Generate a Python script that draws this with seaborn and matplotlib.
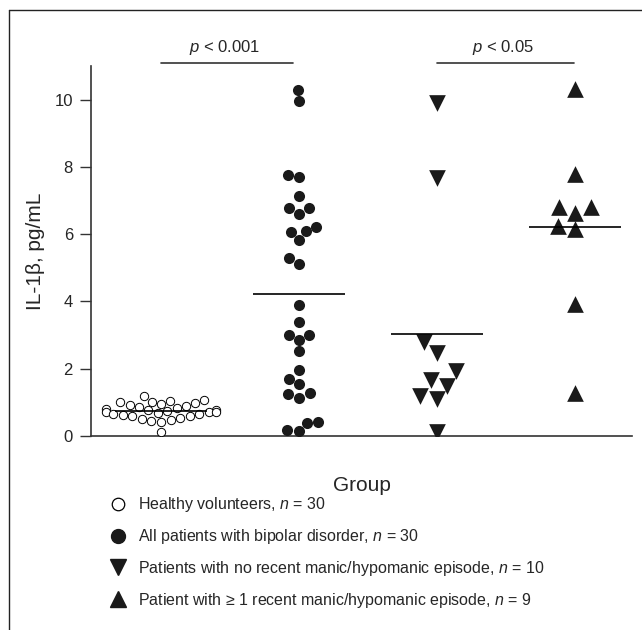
import numpy as np
import pandas as pd
import seaborn as sns
import matplotlib.pyplot as plt
from matplotlib.lines import Line2D

# valores (IL-1beta, pg/mL)
groups = ['Healthy', 'Bipolar', 'NoRecent', 'Recent']
healthy = [1.19, 1.08, 1.05, 1.02, 1.00, 0.98, 0.95, 0.92, 0.88, 0.85,
           0.82, 0.80, 0.78, 0.76, 0.74, 0.72, 0.70, 0.70, 0.68, 0.66,
           0.64, 0.62, 0.60, 0.58, 0.55, 0.52, 0.48, 0.45, 0.42, 0.12]
bipolar = [10.28, 9.95, 7.76, 7.69, 7.14, 6.79, 6.77, 6.60, 6.22, 6.09,
           6.07, 5.82, 5.29, 5.12, 3.90, 3.38, 3.01, 3.01, 2.86, 2.52,
           1.96, 1.69, 1.54, 1.27, 1.26, 1.14, 0.42, 0.40, 0.18, 0.15]
no_recent = [9.90, 7.66, 2.79, 2.47, 1.92, 1.66, 1.49, 1.19, 1.09, 0.13]
recent = [10.33, 7.79, 6.81, 6.81, 6.64, 6.25, 6.14, 3.93, 1.29]

legend_labels = ['Healthy volunteers, $n$ = 30',
                 'All patients with bipolar disorder, $n$ = 30',
                 'Patients with no recent manic/hypomanic episode, $n$ = 10',
                 'Patient with \u2265 1 recent manic/hypomanic episode, $n$ = 9']
pvals = ['$p$ < 0.001', '$p$ < 0.05']
yticks = [0, 2, 4, 6, 8, 10]

sns.set_style('white')
plt.rcParams['font.family'] = ['Liberation Sans', 'DejaVu Sans']
plt.rcParams['mathtext.fontset'] = 'custom'
plt.rcParams['mathtext.rm'] = 'Liberation Sans'
plt.rcParams['mathtext.it'] = 'Liberation Sans:italic'

all_vals = [healthy, bipolar, no_recent, recent]
df = pd.DataFrame({
    'group': np.repeat(groups, [len(v) for v in all_vals]),
    'il1b': np.concatenate(all_vals),
})

fig = plt.figure(figsize=(6.42, 6.30), dpi=100)
ax = fig.add_axes([91/642, 1 - 436/630, (632 - 91)/642, (436 - 66)/630])

ink = '#1a1a1a'
styles = {
    'Healthy': dict(marker='o', size=6, color='white', edgecolor='black', linewidth=0.7),
    'Bipolar': dict(marker='o', size=8, color=ink, linewidth=0),
    'NoRecent': dict(marker='v', size=12, color=ink, linewidth=0),
    'Recent': dict(marker='^', size=12, color=ink, linewidth=0),
}
for g in groups:
    sns.swarmplot(data=df[df.group == g], x='group', y='il1b', order=groups,
                  ax=ax, **styles[g])

# linhas das medias
for i, vals in enumerate(all_vals):
    ax.hlines(np.mean(vals), i - 0.33, i + 0.33, color='black', lw=1.2, zorder=5)

# barras de significancia
ax.plot([0, 0.96], [11.1, 11.1], color='#333333', lw=1.2, clip_on=False)
ax.plot([2, 2.99], [11.1, 11.1], color='#333333', lw=1.2, clip_on=False)
ax.text(0.46, 11.55, pvals[0], ha='center', va='center', fontsize=12)
ax.text(2.48, 11.55, pvals[1], ha='center', va='center', fontsize=12)

ax.set_xlim(-0.507, 3.413)
ax.set_ylim(0, 11.0)
ax.set_yticks(yticks)
ax.set_xticks([])
ax.tick_params(axis='y', length=8, width=1, color='#333333', labelsize=12, pad=5, left=True)
for s in ['top', 'right']:
    ax.spines[s].set_visible(False)
for s in ['left', 'bottom']:
    ax.spines[s].set_color('#333333')
    ax.spines[s].set_linewidth(1.2)
ax.set_ylabel('IL-1\u03b2, pg/mL', fontsize=15, labelpad=7)
ax.set_xlabel('Group', fontsize=15, labelpad=29)

# legenda
handles = [
    Line2D([], [], ls='', marker='o', ms=9, mfc='white', mec='black', mew=0.9),
    Line2D([], [], ls='', marker='o', ms=10, mfc=ink, mec=ink),
    Line2D([], [], ls='', marker='v', ms=11, mfc=ink, mec=ink),
    Line2D([], [], ls='', marker='^', ms=11, mfc=ink, mec=ink),
]
fig.legend(handles, legend_labels, loc='upper left', bbox_to_anchor=(104/642, 1 - 489/630),
           frameon=False, fontsize=11.5, labelspacing=0.8, handlelength=1.0,
           handletextpad=0.7, borderaxespad=0)

# moldura
fig.add_artist(Line2D([9/642, 1.01], [1 - 10/630, 1 - 10/630], color='#222222', lw=1))
fig.add_artist(Line2D([9/642, 9/642], [1 - 10/630, -0.01], color='#222222', lw=1))

plt.savefig('out.png', dpi=100)
